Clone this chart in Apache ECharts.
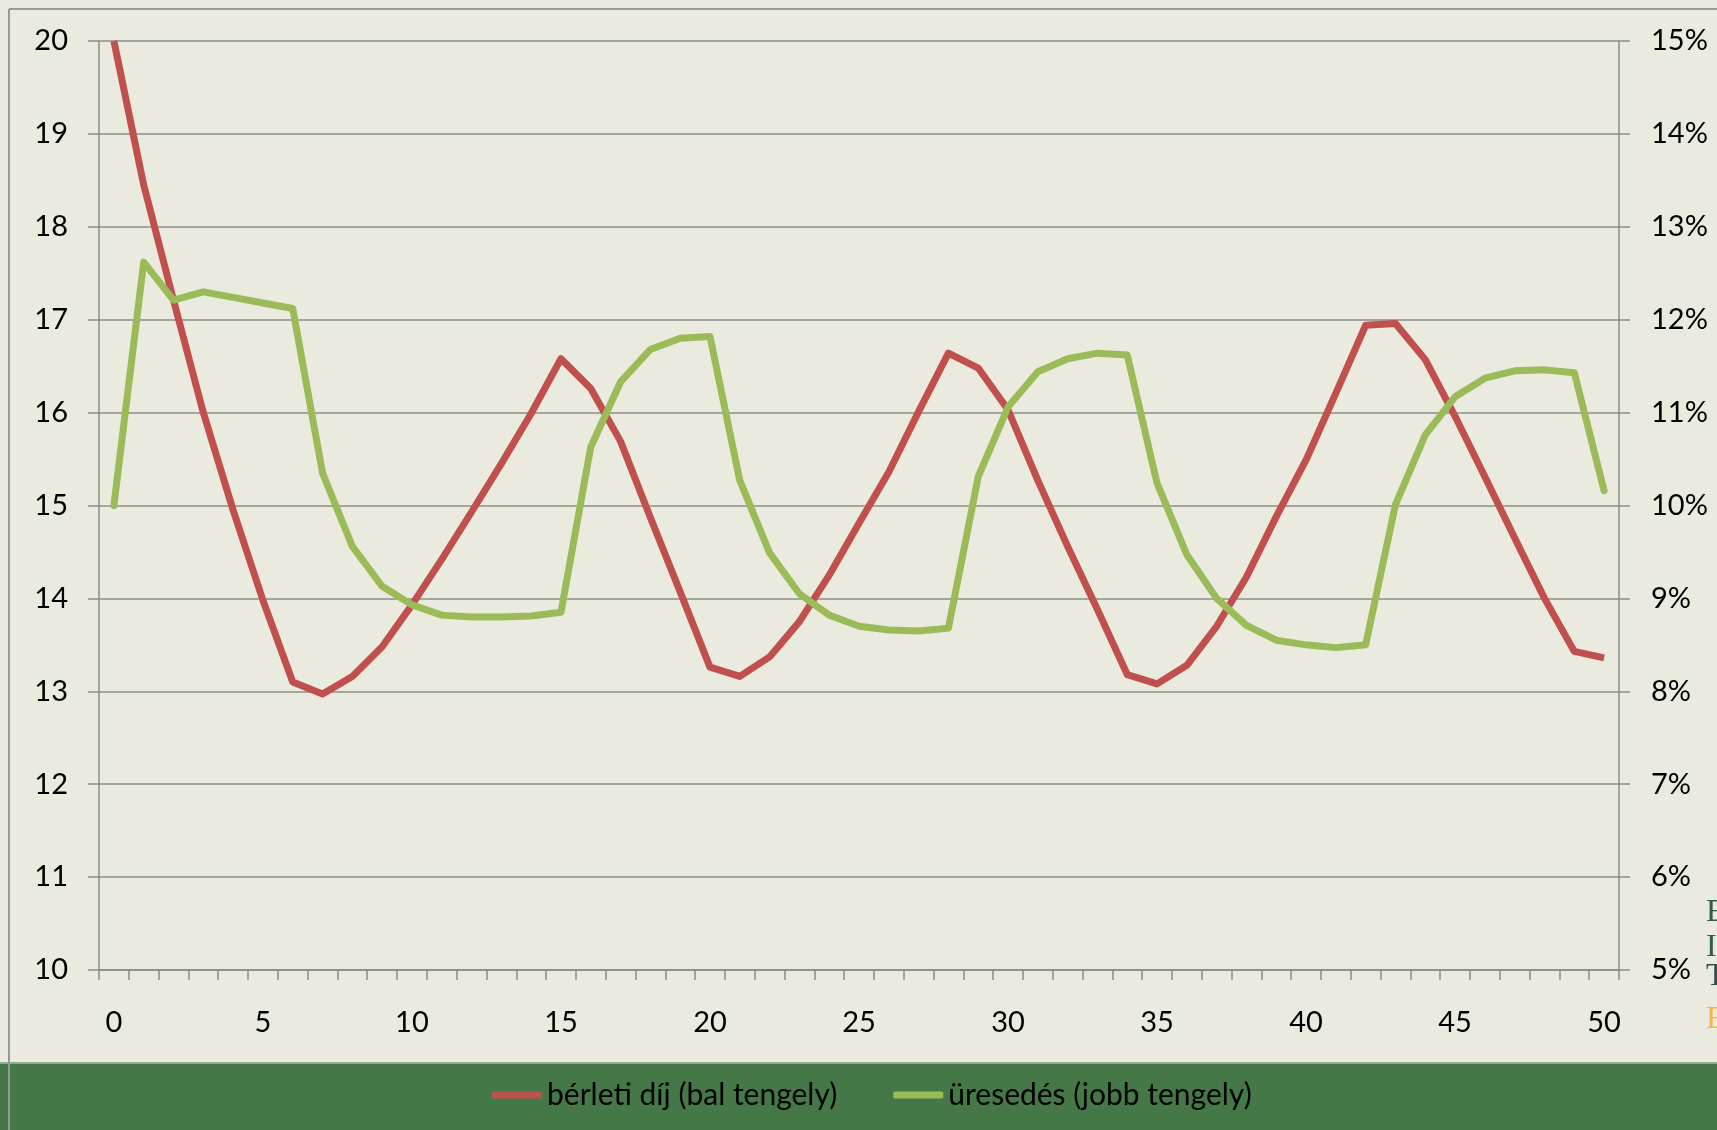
<!DOCTYPE html>
<html>
<head>
<meta charset="utf-8">
<script src="https://cdn.jsdelivr.net/npm/echarts@6/dist/echarts.min.js"></script>
<style>
  html, body { margin: 0; padding: 0; background: #eaeade; }
  #chart { width: 1717px; height: 1130px; }
</style>
</head>
<body>
<div id="chart"></div>
<script>
// x categories 0..50
const periods = ['0','1','2','3','4','5','6','7','8','9','10','11','12','13','14','15','16','17','18','19','20',
  '21','22','23','24','25','26','27','28','29','30','31','32','33','34','35','36','37','38','39','40',
  '41','42','43','44','45','46','47','48','49','50']

// bérleti díj (bal tengely)
const rent = [20.0, 18.45, 17.21, 16.0, 14.95, 13.98, 13.10, 12.97, 13.16, 13.48, 13.93, 14.42, 14.93, 15.45, 15.99, 16.58, 16.26,
  15.69, 14.87, 14.07, 13.26, 13.16, 13.37, 13.75, 14.25, 14.81, 15.36, 16.01, 16.64, 16.48, 16.03, 15.27, 14.56, 13.88,
  13.18, 13.08, 13.28, 13.70, 14.23, 14.88, 15.49, 16.21, 16.94, 16.96, 16.57, 15.96, 15.31, 14.65, 14.00, 13.43, 13.36]

// üresedés (jobb tengely), %
const vacancy = [10.0, 12.62, 12.21, 12.30, 12.24, 12.18, 12.12, 10.35, 9.56, 9.13, 8.93, 8.82, 8.80, 8.80, 8.81, 8.85, 10.63,
  11.33, 11.68, 11.80, 11.82, 10.27, 9.49, 9.05, 8.82, 8.70, 8.66, 8.65, 8.68, 10.31, 11.06, 11.44, 11.58, 11.64,
  11.62, 10.24, 9.47, 9.00, 8.71, 8.55, 8.50, 8.47, 8.50, 10.01, 10.76, 11.17, 11.37, 11.45, 11.46, 11.43, 10.16]

const seriesNames = ['bérleti díj (bal tengely)', 'üresedés (jobb tengely)']

const font = 'Lato, "Open Sans", sans-serif'
const axisGray = '#8c8c8c'
const serif = '32px "Liberation Serif", serif'

const chart = echarts.init(document.getElementById('chart'))
chart.setOption({
  backgroundColor: '#eaeade',
  animation: false,
  textStyle: { fontFamily: font },
  grid: { left: 99, right: 98, top: 41, bottom: 160 },
  legend: {
    left: 487,
    top: 1075,
    itemWidth: 50,
    itemHeight: 7,
    itemGap: 56,
    icon: 'roundRect',
    textStyle: { fontSize: 30, color: '#000', fontFamily: font },
    data: seriesNames
  },
  graphic: [
    { type: 'rect', z: 0, shape: { x: 0, y: 1063, width: 1717, height: 67 }, style: { fill: '#447846' } },
    { type: 'rect', z: 0, shape: { x: 0, y: 1062, width: 1717, height: 2 }, style: { fill: '#8faa8c' } },
    { type: 'line', z: 1, shape: { x1: 9, y1: 9, x2: 1717, y2: 9 }, style: { stroke: '#999', lineWidth: 2 } },
    { type: 'line', z: 1, shape: { x1: 9, y1: 9, x2: 9, y2: 1130 }, style: { stroke: '#999', lineWidth: 2 } },
    { type: 'text', z: 1, left: 1706, top: 897, style: { text: 'E', fill: '#2f5e45', font: serif } },
    { type: 'text', z: 1, left: 1706, top: 932, style: { text: 'I', fill: '#2f5e45', font: serif } },
    { type: 'text', z: 1, left: 1706, top: 961, style: { text: 'T', fill: '#2f5045', font: serif } },
    { type: 'text', z: 1, left: 1706, top: 1004, style: { text: 'E', fill: '#f0b848', font: serif } }
  ],
  xAxis: {
    type: 'category',
    data: periods,
    boundaryGap: true,
    axisLine: { lineStyle: { color: axisGray, width: 1.5 } },
    axisTick: { show: true, interval: 0, length: 10, lineStyle: { color: axisGray, width: 1.5 } },
    axisLabel: {
      interval: (i) => i % 5 === 0,
      margin: 38,
      fontSize: 29,
      color: '#000'
    },
    splitLine: { show: false }
  },
  yAxis: [
    {
      type: 'value',
      min: 10,
      max: 20,
      interval: 1,
      axisLine: { show: true, lineStyle: { color: axisGray, width: 1.5 } },
      axisTick: { show: true, length: 11, lineStyle: { color: axisGray, width: 1.5 } },
      axisLabel: { margin: 31, fontSize: 29, color: '#000' },
      splitLine: { show: true, lineStyle: { color: axisGray, width: 1.5 } }
    },
    {
      type: 'value',
      position: 'right',
      min: 5,
      max: 15,
      interval: 1,
      axisLine: { show: true, lineStyle: { color: axisGray, width: 1.5 } },
      axisTick: { show: true, length: 11, lineStyle: { color: axisGray, width: 1.5 } },
      axisLabel: { margin: 32, fontSize: 29, color: '#000', formatter: '{value}%' },
      splitLine: { show: false }
    }
  ],
  series: [
    {
      name: seriesNames[0],
      type: 'line',
      yAxisIndex: 0,
      data: rent,
      symbol: 'none',
      lineStyle: { color: '#c0504d', width: 7, join: 'round' },
      itemStyle: { color: '#c0504d' },
      z: 3
    },
    {
      name: seriesNames[1],
      type: 'line',
      yAxisIndex: 1,
      data: vacancy,
      symbol: 'none',
      lineStyle: { color: '#9bbb59', width: 7, join: 'round', cap: 'round' },
      itemStyle: { color: '#9bbb59' },
      z: 4
    }
  ]
})
</script>
</body>
</html>
